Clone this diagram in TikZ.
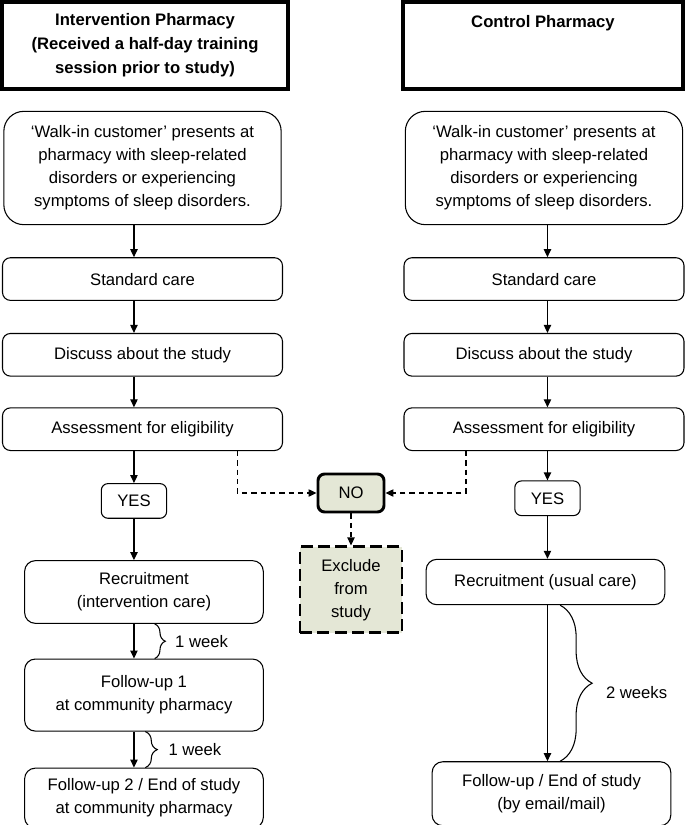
\documentclass[tikz,border=0pt]{standalone}
\usepackage{fontspec}
\setmainfont{Liberation Sans}
\usepackage{tikz}
\usetikzlibrary{positioning}
\usetikzlibrary{arrows.meta}
\usetikzlibrary{decorations.pathreplacing}
\definecolor{nogreen}{RGB}{228,231,214}
\tikzset{
	every node/.style={
		align=center,
		font=\fontsize{12.5}{17.25}\selectfont},
	head/.style={
		draw, line width=3.2pt,
		minimum height=65pt,
		font=\bfseries\fontsize{12.5}{18}\selectfont},
	box/.style={
		draw, line width=0.8pt,
		rounded corners=6pt,
		minimum width=210pt, minimum height=32pt},
	walkbox/.style={box, rounded corners=15pt,
		minimum width=208pt, minimum height=85pt},
	stepbox/.style={box, rounded corners=8pt,
		minimum width=179pt},
	yesbox/.style={box, rounded corners=5pt,
		minimum width=49pt, minimum height=26pt},
	nobox/.style={
		draw, line width=2.2pt, rounded corners=5pt,
		fill=nogreen,
		minimum width=49.5pt, minimum height=28.5pt},
	exclbox/.style={
		draw, line width=2.2pt,
		dash pattern=on 9pt off 4pt,
		fill=nogreen,
		minimum width=76.5pt, minimum height=64.5pt},
	arr/.style={
		draw, line width=0.9pt,
		-{Triangle[length=6pt,width=5.5pt]}},
	dasharr/.style={arr, dash pattern=on 4pt off 3pt},
	wkbrace/.style={
		draw, line width=0.8pt,
		decorate, decoration={brace, amplitude=#1}},
	wklabel/.style={inner sep=0pt}
}

\begin{document}
\begin{tikzpicture}[x=0.75pt, y=0.75pt]
	\useasboundingbox (0,0) rectangle (685,-825);

	% headers
	\node[head, minimum width=214.5pt] (headL) at (145,-45.5)
		{Intervention Pharmacy\\(Received a half-day training\\session prior to study)};
	\node[head, minimum width=210pt] (headR) at (543,-45.5)
		{Control Pharmacy\\~\\~};

	% intervention pharmacy
	\node[walkbox] (walkL) at (142.5,-168)
		{‘Walk-in customer’ presents at\\pharmacy with sleep-related\\disorders or experiencing\\symptoms of sleep disorders.};
	\node[box, below=24pt of walkL] (stdL) {Standard care};
	\node[box, below=24pt of stdL] (discL) {Discuss about the study};
	\node[box, below=23pt of discL] (assessL) {Assessment for eligibility};
	\node[yesbox, below=24pt of assessL, xshift=-6.4pt] (yesL) {YES};
	\node[stepbox, below=31pt of yesL, xshift=7.5pt, minimum height=47pt] (recL)
		{Recruitment\\(intervention care)};
	\node[stepbox, below=26pt of recL, minimum height=54pt] (fuL1)
		{Follow-up 1\\at community pharmacy};
	\node[stepbox, below=27pt of fuL1, minimum height=45pt] (fuL2)
		{Follow-up 2 / End of study\\at community pharmacy};

	% control pharmacy
	\node[walkbox] (walkR) at (544,-168)
		{‘Walk-in customer’ presents at\\pharmacy with sleep-related\\disorders or experiencing\\symptoms of sleep disorders.};
	\node[box, below=24pt of walkR] (stdR) {Standard care};
	\node[box, below=24pt of stdR] (discR) {Discuss about the study};
	\node[box, below=23pt of discR] (assessR) {Assessment for eligibility};
	\node[yesbox, below=22pt of assessR, xshift=2.6pt] (yesR) {YES};
	\node[stepbox, below=32pt of yesR, xshift=-1.5pt, minimum height=34pt] (recR)
		{Recruitment (usual care)};
	\node[stepbox, below=117pt of recR, xshift=4.5pt, minimum height=48pt] (fuR)
		{Follow-up / End of study\\(by email/mail)};

	% not eligible
	\node[nobox] (no) at (351,-493) {NO};
	\node[exclbox, below=24pt of no] (excl) {Exclude\\from\\study};

	\draw[arr] (walkL.south -| yesL) -- (stdL.north -| yesL);
	\draw[arr] (stdL.south -| yesL) -- (discL.north -| yesL);
	\draw[arr] (discL.south -| yesL) -- (assessL.north -| yesL);
	\draw[arr] (assessL.south -| yesL) -- (yesL.north);
	\draw[arr] (yesL.south) -- (recL.north -| yesL);
	\draw[arr] (recL.south -| yesL) -- (fuL1.north -| yesL);
	\draw[arr] (fuL1.south -| yesL) -- (fuL2.north -| yesL);

	\draw[arr] (walkR.south -| yesR) -- (stdR.north -| yesR);
	\draw[arr] (stdR.south -| yesR) -- (discR.north -| yesR);
	\draw[arr] (discR.south -| yesR) -- (assessR.north -| yesR);
	\draw[arr] (assessR.south -| yesR) -- (yesR.north);
	\draw[arr] (yesR.south) -- (recR.north -| yesR);
	\draw[arr] (recR.south -| yesR) -- (fuR.north -| yesR);

	\draw[dasharr] ([xshift=71pt]assessL.south) |- (no);
	\draw[dasharr] ([xshift=-58.5pt]assessR.south) |- (no);
	\draw[dasharr] (no) -- (excl);

	% time between visits
	\draw[wkbrace=8pt] ([xshift=8pt]recL.south) -- node[wklabel, right=15pt] {1 week}
		([xshift=8pt]fuL1.north);
	\draw[wkbrace=9pt] ([xshift=1pt]fuL1.south) -- node[wklabel, right=17pt] {1 week}
		([xshift=1pt]fuL2.north);
	\draw[wkbrace=24pt] ([xshift=11pt]recR.south) -- node[wklabel, right=34pt, yshift=-7pt] {2 weeks}
		([xshift=11pt]recR.south |- fuR.north);
\end{tikzpicture}
\end{document}
